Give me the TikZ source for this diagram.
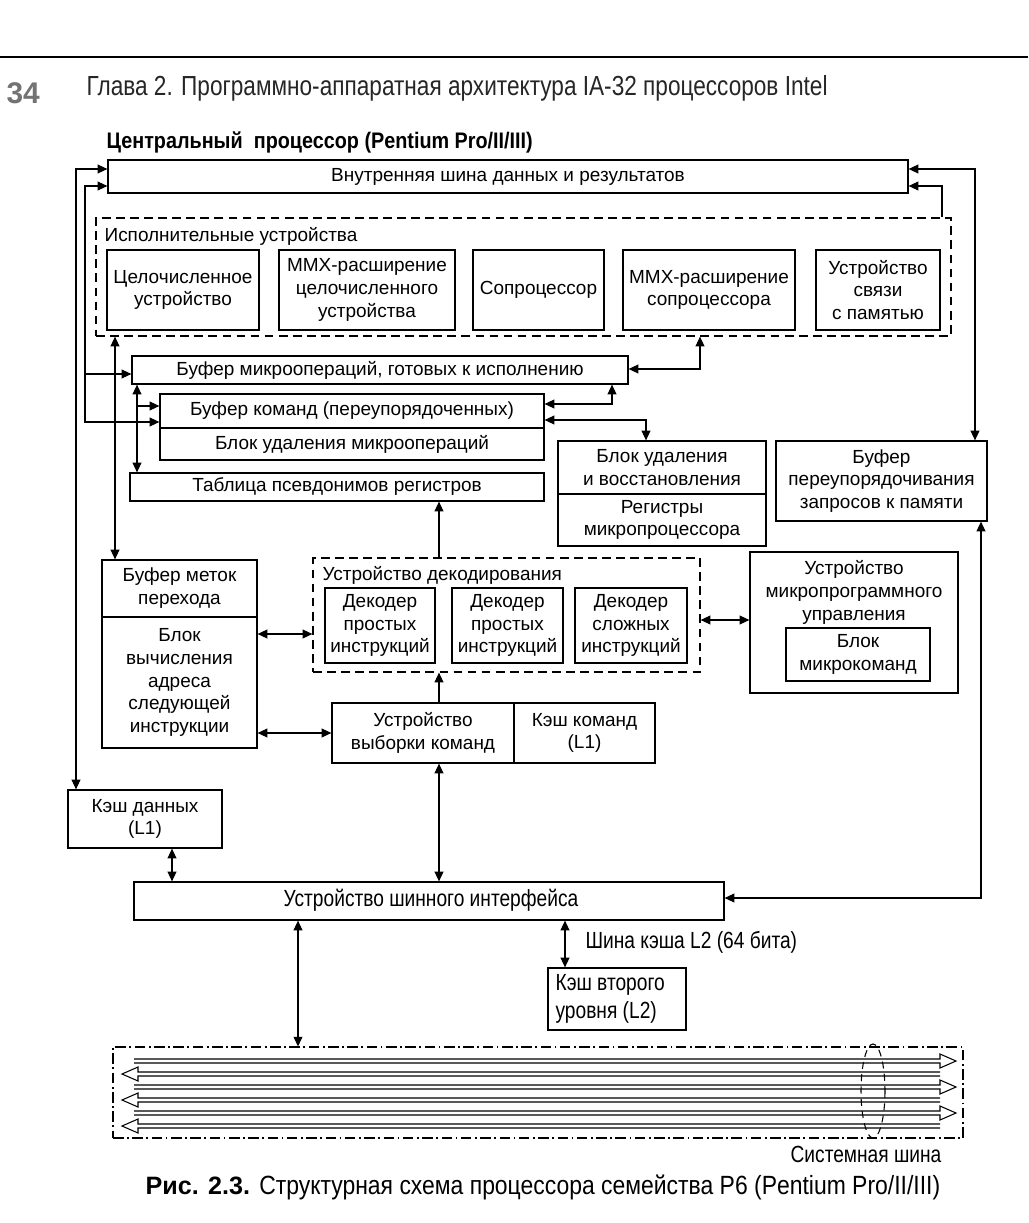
\documentclass[tikz,border=0pt]{standalone}
\usepackage{fontspec}
\setmainfont{Liberation Sans}
\newfontfamily\narrowfont[FakeStretch=0.82]{Liberation Sans}
\newfontfamily\capfont[FakeStretch=0.87]{Liberation Sans}
\newfontfamily\titlefont[FakeStretch=0.88]{Liberation Sans}
\usetikzlibrary{arrows.meta,fit}
\newcommand\boxfont{\fontsize{10.8}{13}\selectfont}
\newcommand\busR[1]{\draw (134,#1-2) -- (940,#1-2) -- (940,#1-7) -- (956,#1) -- (940,#1+7) -- (940,#1+2) -- (134,#1+2);}
\newcommand\busL[1]{\draw (940,#1-2) -- (138,#1-2) -- (138,#1-7) -- (122,#1) -- (138,#1+7) -- (138,#1+2) -- (940,#1+2);}
% box with centred text: name, corner1, corner2, text
\newcommand\mkbox[4]{\node[box, fit={(#2) (#3)}] (#1) {};
  \node[lbl, align=center] (#1-t) at (#1.center) {#4};}
\begin{document}
\begin{tikzpicture}[x=0.02cm,y=-0.02cm,
  >={Triangle[length=5.5pt,width=5pt]},
  line width=0.7pt,
  box/.style={draw, inner sep=0pt},
  dbox/.style={draw, dash pattern=on 5pt off 3pt, inner sep=0pt},
  lbl/.style={inner sep=0pt, font=\boxfont},
  nlbl/.style={inner sep=0pt, font=\narrowfont\fontsize{13.3}{16}\selectfont}]
\useasboundingbox (0,0) rectangle (1028,1223);
% page header
\draw[line width=0.9pt] (0,57) -- (1028,57);
\node[anchor=west, inner sep=0pt, text=black!55, font=\bfseries\fontsize{17}{20}\selectfont] (pnum) at (6,93) {34};
\node[anchor=west, inner sep=0pt, text=black!85, font=\narrowfont\fontsize{15.7}{18}\selectfont] (hdr) at (86,88) {Глава 2. Программно-аппаратная архитектура IA-32 процессоров Intel};
\node[anchor=west, inner sep=0pt, font=\titlefont\bfseries\fontsize{12.8}{15}\selectfont] (title) at (106,142) {Центральный\ \ процессор (Pentium Pro/II/III)};
% boxes
\mkbox{databus}{108,160}{908,193}{Внутренняя шина данных и результатов}
\node[dbox, fit={(96,218) (951,336)}] (exec) {};
\node[lbl, anchor=west] (execlbl) at (104,236) {Исполнительные устройства};
\mkbox{int}{107,250}{259,330}{Целочисленное\\устройство}
\mkbox{mmxint}{279,250}{455,330}{MMX-расширение\\целочисленного\\устройства}
\mkbox{fpu}{473,250}{604,330}{Сопроцессор}
\mkbox{mmxfpu}{623,250}{795,330}{MMX-расширение\\сопроцессора}
\mkbox{mem}{816,250}{940,330}{Устройство\\связи\\с памятью}
\mkbox{uops}{132,356}{628,384}{Буфер микроопераций, готовых к исполнению}
\mkbox{robA}{160,394}{544,428}{Буфер команд (переупорядоченных)}
\mkbox{robB}{160,428}{544,460}{Блок удаления микроопераций}
\mkbox{rat}{130,473}{544,501}{Таблица псевдонимов регистров}
\mkbox{retire}{558,441}{766,494}{Блок удаления\\и восстановления}
\mkbox{regs}{558,494}{766,546}{Регистры\\микропроцессора}
\mkbox{memrob}{776,441}{987,521}{Буфер\\переупорядочивания\\запросов к памяти}
\mkbox{btb}{102,560}{257,617}{Буфер меток\\перехода}
\mkbox{nextaddr}{102,617}{257,748}{Блок\\вычисления\\адреса\\следующей\\инструкции}
\node[dbox, fit={(313,558) (700,672)}] (decode) {};
\node[lbl, anchor=west] (declbl) at (322,575) {Устройство декодирования};
\mkbox{d1}{325,588}{435,663}{Декодер\\простых\\инструкций}
\mkbox{d2}{452,588}{563,663}{Декодер\\простых\\инструкций}
\mkbox{d3}{575,588}{687,663}{Декодер\\сложных\\инструкций}
\node[box, fit={(750,552) (958,693)}] (mcu) {};
\node[lbl, anchor=north, align=center] (mculbl) at (854,560) {Устройство\\микропрограммного\\управления};
\mkbox{ucode}{786,628}{930,681}{Блок\\микрокоманд}
\mkbox{fetch}{332,703}{514,763}{Устройство\\выборки команд}
\mkbox{icache}{514,703}{655,763}{Кэш команд\\(L1)}
\mkbox{dcache}{68,790}{222,848}{Кэш данных\\(L1)}
\node[box, fit={(134,882) (724,920)}] (biu) {};
\node[nlbl] (biulbl) at (431,900) {Устройство шинного интерфейса};
\node[box, fit={(548,968) (686,1030)}] (l2) {};
\node[nlbl, anchor=west, align=left] (l2lbl) at (555,999) {Кэш второго\\уровня (L2)};
\node[nlbl, anchor=west] (l2bus) at (585,942) {Шина кэша L2 (64 бита)};
\node[draw, inner sep=0pt, dash pattern=on 6pt off 2pt on 1pt off 2pt, line width=0.6pt, fit={(113,1047) (963,1138)}] (sysbus) {};
\node[nlbl, anchor=north east] (sysbuslbl) at (942,1146) {Системная шина};
% system bus lines
\begin{scope}[line width=0.6pt]
\busR{1061}\busL{1074}
\busR{1087}\busL{1100}
\busR{1113}\busL{1126}
\draw[dash pattern=on 4pt off 3pt] (873,1091) ellipse (12 and 47);
\end{scope}
% caption
\node[anchor=west, inner sep=0pt, font=\fontsize{14.3}{17}\selectfont] (cap) at (145,1187) {\textbf{Рис. 2.3.} {\capfont\fontsize{15}{17}\selectfont Структурная схема процессора семейства P6 (Pentium Pro/II/III)}};
% connectors
\coordinate (a1) at (76,169);
\draw[<->] (a1 -| databus.west) -- (a1) -- (a1 |- dcache.north);
\coordinate (a2) at (85,186);
\coordinate (a2b) at (85,374);
\coordinate (a2c) at (85,422);
\draw[<->] (a2 -| databus.west) -- (a2) -- (a2c) -- (a2c -| robA.west);
\draw[->] (a2b) -- (a2b -| uops.west);
\coordinate (a3) at (115,0);
\draw[<->] (a3 |- exec.south) -- (a3 |- btb.north);
\coordinate (a4) at (137,406);
\draw[<->] (a4 |- uops.south) -- (a4 |- rat.north);
\draw[->] (a4) -- (a4 -| robA.west);
\coordinate (a5) at (700,369);
\draw[<->] (a5 |- exec.south) -- (a5) -- (a5 -| uops.east);
\coordinate (a6) at (612,404);
\draw[<->] (a6 |- uops.south) -- (a6) -- (a6 -| robA.east);
\coordinate (a7) at (646,420);
\draw[<->] (a7 -| robA.east) -- (a7) -- (a7 |- retire.north);
\coordinate (a8) at (975,169);
\draw[<->] (a8 -| databus.east) -- (a8) -- (a8 |- memrob.north);
\coordinate (a9) at (942,186);
\draw[->] (a9 |- exec.north) -- (a9) -- (a9 -| databus.east);
\coordinate (a10) at (439,0);
\draw[->] (a10 |- decode.north) -- (a10 |- rat.south);
\draw[->] (a10 |- fetch.north) -- (a10 |- decode.south);
\coordinate (a12) at (0,634);
\draw[<->] (a12 -| nextaddr.east) -- (a12 -| decode.west);
\draw[<->] (fetch.west -| nextaddr.east) -- (fetch.west);
\coordinate (a14) at (0,620);
\draw[<->] (a14 -| decode.east) -- (a14 -| mcu.west);
\coordinate (a15) at (981,898);
\draw[<->] (a15 |- memrob.south) -- (a15) -- (a15 -| biu.east);
\draw[<->] (a10 |- fetch.south) -- (a10 |- biu.north);
\coordinate (a17) at (172,0);
\draw[<->] (a17 |- dcache.south) -- (a17 |- biu.north);
\coordinate (a18) at (298,0);
\draw[<->] (a18 |- biu.south) -- (a18 |- sysbus.north);
\coordinate (a19) at (565,0);
\draw[<->] (a19 |- biu.south) -- (a19 |- l2.north);
\end{tikzpicture}
\end{document}
